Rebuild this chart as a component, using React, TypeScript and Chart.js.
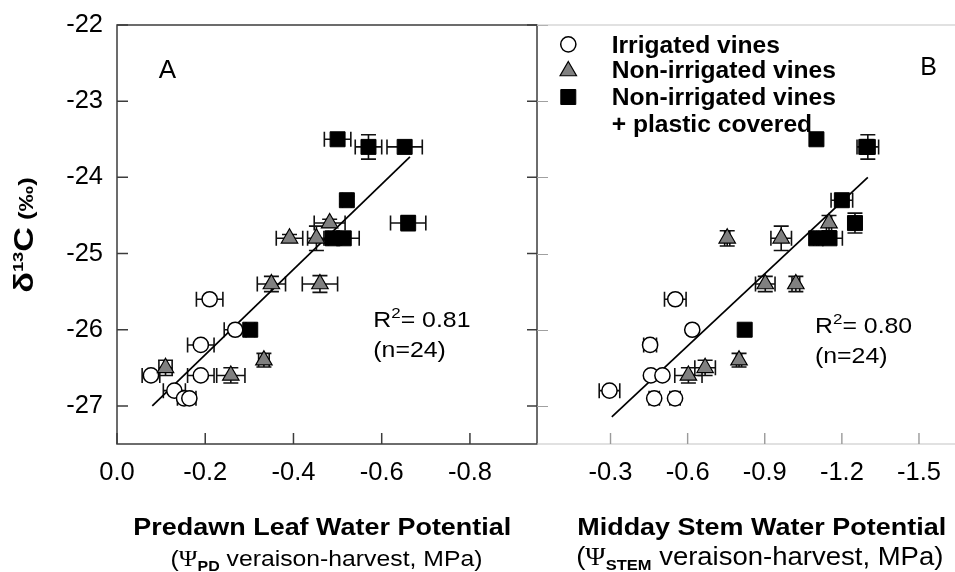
import { useEffect, useRef } from 'react';
import { Chart, registerables } from 'chart.js';
Chart.register(...registerables);

const FONT = '"Liberation Sans", Arial, Helvetica, sans-serif';
const SERIF = '"Liberation Serif", "DejaVu Serif", serif';
const GREY = '#808080';

// ---------- axes ----------
const yTicks = [-27, -26, -25, -24, -23, -22];
const xTicksA = [0, -0.2, -0.4, -0.6, -0.8];
const xTicksB = [-0.3, -0.6, -0.9, -1.2, -1.5];

// ---------- legend ----------
const legendLines = ['Irrigated vines', 'Non-irrigated vines', 'Non-irrigated vines', '+ plastic covered'];

// ---------- Panel A: predawn leaf water potential ----------
const irrA_x = [-0.21, -0.19, -0.268, -0.19, -0.077, -0.13, -0.152, -0.164];
const irrA_y = [-25.6, -26.2, -26.0, -26.6, -26.6, -26.8, -26.9, -26.9];
const irrA_xe = [0.03, 0.03, 0.025, 0.03, 0.02, 0.025, 0.015, 0.015];
const irrA_ye = [0, 0, 0, 0, 0, 0, 0, 0];

const nonA_x = [-0.482, -0.391, -0.452, -0.46, -0.35, -0.333, -0.258, -0.11];
const nonA_y = [-24.6, -24.8, -24.8, -25.4, -25.4, -26.4, -26.6, -26.5];
const nonA_xe = [0.035, 0.03, 0.02, 0.04, 0.032, 0.012, 0.032, 0.015];
const nonA_ye = [0.05, 0.05, 0.16, 0.11, 0.1, 0.09, 0.1, 0.1];

const plaA_x = [-0.5, -0.57, -0.652, -0.521, -0.66, -0.489, -0.514, -0.302];
const plaA_y = [-23.5, -23.6, -23.6, -24.3, -24.6, -24.8, -24.8, -26.0];
const plaA_xe = [0.03, 0.03, 0.04, 0.01, 0.04, 0.02, 0.035, 0.01];
const plaA_ye = [0, 0.16, 0, 0.05, 0.1, 0, 0, 0];

const fitA_x = [-0.08, -0.664];
const fitA_y = [-27.0, -23.73];

// ---------- Panel B: midday stem water potential ----------
const irrB_x = [-0.552, -0.618, -0.454, -0.457, -0.502, -0.296, -0.47, -0.551];
const irrB_y = [-25.6, -26.0, -26.2, -26.6, -26.6, -26.8, -26.9, -26.9];
const irrB_xe = [0.042, 0, 0.025, 0, 0, 0.04, 0.02, 0.02];
const irrB_ye = [0, 0, 0, 0, 0, 0, 0, 0];

const nonB_x = [-0.754, -0.964, -1.15, -0.902, -1.021, -0.8, -0.668, -0.603];
const nonB_y = [-24.8, -24.8, -24.6, -25.4, -25.4, -26.4, -26.5, -26.6];
const nonB_xe = [0.01, 0.04, 0.01, 0.038, 0.015, 0.01, 0.04, 0.053];
const nonB_ye = [0.1, 0.16, 0.1, 0.1, 0.1, 0.09, 0.1, 0.1];

const plaB_x = [-1.101, -1.301, -1.295, -1.2, -1.251, -1.1, -1.152, -0.822];
const plaB_y = [-23.5, -23.6, -23.6, -24.3, -24.6, -24.8, -24.8, -26.0];
const plaB_xe = [0, 0.042, 0, 0.042, 0.01, 0.01, 0.05, 0];
const plaB_ye = [0, 0.16, 0, 0.02, 0.13, 0, 0, 0];

const fitB_x = [-0.305, -1.301];
const fitB_y = [-27.145, -24.0];

// ---------- helpers ----------
const pts = (xs: number[], ys: number[]) => xs.map((x, i) => ({ x, y: ys[i] }));

const STYLES: Record<string, any> = {
  circle: { pointStyle: 'circle', r: 7.6, fill: '#ffffff', bw: 1.5 },
  triangle: { pointStyle: 'triangle', r: 9.5, fill: GREY, bw: 1.2 },
  rect: { pointStyle: 'rect', r: 10.6, fill: '#000000', bw: 1 },
};

function scatterDs(label: string, xs: number[], ys: number[], ex: number[], ey: number[], shape: string, order: number) {
  const s = STYLES[shape];
  return {
    type: 'scatter',
    label,
    data: pts(xs, ys),
    errX: ex,
    errY: ey,
    showLine: false,
    pointStyle: s.pointStyle,
    pointRadius: s.r,
    pointHoverRadius: s.r,
    pointBackgroundColor: s.fill,
    pointBorderColor: '#000',
    pointBorderWidth: s.bw,
    pointHoverBorderWidth: s.bw,
    backgroundColor: s.fill,
    borderColor: '#000',
    order,
  };
}

function fitDs(xs: number[], ys: number[]) {
  return {
    type: 'scatter',
    label: 'fit',
    data: pts(xs, ys),
    showLine: true,
    borderColor: '#000',
    borderWidth: 1.7,
    pointRadius: 0,
    pointHoverRadius: 0,
    fill: false,
    order: 4,
  };
}

type Run = { t: string; f: string; dy?: number };
function drawRuns(ctx: CanvasRenderingContext2D, runs: Run[], x: number, y: number, align: 'left' | 'center', sx: number) {
  ctx.save();
  let w = 0;
  const ws = runs.map((r) => {
    ctx.font = r.f;
    const m = ctx.measureText(r.t).width;
    w += m;
    return m;
  });
  const start = align === 'center' ? x - (w * sx) / 2 : x;
  ctx.translate(start, y);
  ctx.scale(sx, 1);
  ctx.fillStyle = '#000';
  ctx.textBaseline = 'alphabetic';
  ctx.textAlign = 'left';
  let cx = 0;
  runs.forEach((r, i) => {
    ctx.font = r.f;
    ctx.fillText(r.t, cx, r.dy || 0);
    cx += ws[i];
  });
  ctx.restore();
}

function drawMarker(ctx: CanvasRenderingContext2D, shape: string, x: number, y: number) {
  const s = STYLES[shape];
  ctx.save();
  ctx.strokeStyle = '#000';
  ctx.lineWidth = s.bw;
  ctx.fillStyle = s.fill;
  ctx.beginPath();
  if (shape === 'circle') {
    ctx.arc(x, y, s.r, 0, Math.PI * 2);
  } else if (shape === 'triangle') {
    const r = s.r;
    ctx.moveTo(x, y - r);
    ctx.lineTo(x + r * 0.866, y + r / 2);
    ctx.lineTo(x - r * 0.866, y + r / 2);
    ctx.closePath();
  } else {
    const h = s.r * Math.SQRT1_2;
    ctx.rect(x - h, y - h, 2 * h, 2 * h);
  }
  ctx.fill();
  ctx.stroke();
  ctx.restore();
}

const errorBars = {
  id: 'errorBars',
  beforeDatasetsDraw(chart: any) {
    const ctx: CanvasRenderingContext2D = chart.ctx;
    const xs = chart.scales.x;
    const ys = chart.scales.y;
    const CAP = 7.5;
    ctx.save();
    ctx.strokeStyle = '#111';
    ctx.lineWidth = 1.6;
    chart.data.datasets.forEach((ds: any) => {
      if (!ds.errX && !ds.errY) return;
      ds.data.forEach((p: any, j: number) => {
        const px = xs.getPixelForValue(p.x);
        const py = ys.getPixelForValue(p.y);
        const dx = ds.errX ? ds.errX[j] : 0;
        const dy = ds.errY ? ds.errY[j] : 0;
        ctx.beginPath();
        if (dx > 0) {
          const x1 = xs.getPixelForValue(p.x - dx);
          const x2 = xs.getPixelForValue(p.x + dx);
          ctx.moveTo(x1, py); ctx.lineTo(x2, py);
          ctx.moveTo(x1, py - CAP); ctx.lineTo(x1, py + CAP);
          ctx.moveTo(x2, py - CAP); ctx.lineTo(x2, py + CAP);
        }
        if (dy > 0) {
          const y1 = ys.getPixelForValue(p.y - dy);
          const y2 = ys.getPixelForValue(p.y + dy);
          ctx.moveTo(px, y1); ctx.lineTo(px, y2);
          ctx.moveTo(px - CAP, y1); ctx.lineTo(px + CAP, y1);
          ctx.moveTo(px - CAP, y2); ctx.lineTo(px + CAP, y2);
        }
        ctx.stroke();
      });
    });
    ctx.restore();
  },
};

const frameA = {
  id: 'frameA',
  afterDraw(chart: any) {
    const ctx: CanvasRenderingContext2D = chart.ctx;
    const { left, right, top, bottom } = chart.chartArea;
    const xs = chart.scales.x;
    const ys = chart.scales.y;
    ctx.save();
    ctx.strokeStyle = '#3c3c3c';
    ctx.lineWidth = 1.5;
    ctx.strokeRect(left, top, right - left, bottom - top);
    ctx.beginPath();
    yTicks.forEach((v) => {
      const py = ys.getPixelForValue(v);
      ctx.moveTo(left, py); ctx.lineTo(left + 11, py);
      ctx.moveTo(right - 10, py); ctx.lineTo(right, py);
    });
    xTicksA.forEach((v) => {
      const px = xs.getPixelForValue(v);
      ctx.moveTo(px, bottom); ctx.lineTo(px, bottom - 11);
    });
    ctx.stroke();
    ctx.strokeStyle = '#a0a0a0';
    ctx.lineWidth = 1;
    ctx.beginPath();
    yTicks.forEach((v) => {
      const py = Math.round(ys.getPixelForValue(v)) + 0.5;
      ctx.moveTo(right, py); ctx.lineTo(right + 11, py);
    });
    ctx.stroke();
    ctx.restore();

    // y-axis title
    ctx.save();
    ctx.translate(33, 235);
    ctx.rotate(-Math.PI / 2);
    drawRuns(ctx, [
      { t: 'δ', f: `bold 28px ${FONT}` },
      { t: '13', f: `bold 15px ${FONT}`, dy: -10 },
      { t: 'C', f: `bold 28px ${FONT}` },
      { t: ' (‰)', f: `bold 21px ${FONT}` },
    ], 0, 0, 'center', 1.22);
    ctx.restore();

    // panel letter
    drawRuns(ctx, [{ t: 'A', f: `26px ${FONT}` }], 167.5, 78.3, 'center', 1);
    // statistics
    drawRuns(ctx, [
      { t: 'R', f: `22px ${FONT}` },
      { t: '2', f: `15px ${FONT}`, dy: -9 },
      { t: '= 0.81', f: `22px ${FONT}` },
    ], 373.3, 327, 'left', 1.13);
    drawRuns(ctx, [{ t: '(n=24)', f: `22px ${FONT}` }], 373.3, 357, 'left', 1.13);
    // x-axis titles
    drawRuns(ctx, [{ t: 'Predawn Leaf Water Potential', f: `bold 24.5px ${FONT}` }], 322.3, 535, 'center', 1.1);
    drawRuns(ctx, [
      { t: '(', f: `22.5px ${FONT}` },
      { t: 'Ψ', f: `23px ${SERIF}` },
      { t: 'PD', f: `bold 14.5px ${FONT}`, dy: 5 },
      { t: ' veraison-harvest, MPa)', f: `22.5px ${FONT}` },
    ], 326.5, 566, 'center', 1.1);
  },
};

const frameB = {
  id: 'frameB',
  afterDraw(chart: any) {
    const ctx: CanvasRenderingContext2D = chart.ctx;
    const { left, top, bottom } = chart.chartArea;
    const right = chart.width;
    const xs = chart.scales.x;
    ctx.save();
    ctx.strokeStyle = '#c4c4c4';
    ctx.lineWidth = 1.2;
    ctx.beginPath();
    ctx.moveTo(left, top); ctx.lineTo(right, top);
    ctx.moveTo(left, bottom); ctx.lineTo(right, bottom);
    ctx.stroke();
    ctx.strokeStyle = '#9a9a9a';
    ctx.lineWidth = 1.4;
    ctx.beginPath();
    xTicksB.forEach((v) => {
      const px = xs.getPixelForValue(v);
      ctx.moveTo(px, bottom); ctx.lineTo(px, bottom - 11);
    });
    ctx.stroke();
    ctx.restore();

    // legend
    drawMarker(ctx, 'circle', 568.3, 44.3);
    drawMarker(ctx, 'triangle', 568.3, 71);
    drawMarker(ctx, 'rect', 568.3, 97);
    const lf = `bold 23px ${FONT}`;
    const baselines = [52.7, 77.8, 104.6, 132.3];
    legendLines.forEach((t, i) => drawRuns(ctx, [{ t, f: lf }], 611.7, baselines[i], 'left', 1.07));

    drawRuns(ctx, [{ t: 'B', f: `25px ${FONT}` }], 928.7, 75, 'center', 1);
    drawRuns(ctx, [
      { t: 'R', f: `22px ${FONT}` },
      { t: '2', f: `15px ${FONT}`, dy: -9 },
      { t: '= 0.80', f: `22px ${FONT}` },
    ], 815, 333, 'left', 1.13);
    drawRuns(ctx, [{ t: '(n=24)', f: `22px ${FONT}` }], 815, 363, 'left', 1.13);

    drawRuns(ctx, [{ t: 'Midday Stem Water Potential', f: `bold 24.5px ${FONT}` }], 761.7, 534.5, 'center', 1.1);
    drawRuns(ctx, [
      { t: '(', f: `25px ${FONT}` },
      { t: 'Ψ', f: `25px ${SERIF}` },
      { t: 'STEM', f: `bold 15px ${FONT}`, dy: 5 },
      { t: ' veraison-harvest, MPa)', f: `25px ${FONT}` },
    ], 759.8, 565, 'center', 1.1);
  },
};

const tickFont = { family: FONT, size: 25.5 };

function makeConfig(panel: 'A' | 'B'): any {
  const isA = panel === 'A';
  const datasets = isA
    ? [
        fitDs(fitA_x, fitA_y),
        scatterDs(legendLines[0], irrA_x, irrA_y, irrA_xe, irrA_ye, 'circle', 3),
        scatterDs(legendLines[1], nonA_x, nonA_y, nonA_xe, nonA_ye, 'triangle', 2),
        scatterDs(legendLines[2], plaA_x, plaA_y, plaA_xe, plaA_ye, 'rect', 1),
      ]
    : [
        fitDs(fitB_x, fitB_y),
        scatterDs(legendLines[0], irrB_x, irrB_y, irrB_xe, irrB_ye, 'circle', 3),
        scatterDs(legendLines[1], nonB_x, nonB_y, nonB_xe, nonB_ye, 'triangle', 2),
        scatterDs(legendLines[2], plaB_x, plaB_y, plaB_xe, plaB_ye, 'rect', 1),
      ];
  const xt = isA ? xTicksA : xTicksB;
  return {
    type: 'scatter',
    data: { datasets },
    plugins: [errorBars, isA ? frameA : frameB],
    options: {
      responsive: false,
      maintainAspectRatio: false,
      animation: false,
      devicePixelRatio: 1,
      events: [],
      layout: { padding: isA ? { left: 0, right: 418, top: 25, bottom: 0 } : { left: 537, right: 0, top: 25, bottom: 0 } },
      plugins: { legend: { display: false }, tooltip: { enabled: false }, title: { display: false } },
      scales: {
        x: {
          type: 'linear',
          min: isA ? -0.952 : -1.595,
          max: isA ? 0 : -0.014,
          reverse: true,
          afterBuildTicks: (s: any) => { s.ticks = xt.map((v) => ({ value: v })); },
          afterFit: (s: any) => { s.height = 128; s.paddingLeft = 0; s.paddingRight = 0; },
          grid: { display: false, drawTicks: false },
          border: { display: false },
          ticks: {
            padding: 14,
            color: '#000',
            font: tickFont,
            autoSkip: false,
            maxRotation: 0,
            callback: (v: any) => Number(v).toFixed(1).replace('-0.0', '0.0'),
          },
        },
        y: {
          type: 'linear',
          display: isA,
          min: -27.5,
          max: -22,
          afterBuildTicks: (s: any) => { s.ticks = yTicks.map((v) => ({ value: v })); },
          afterFit: (s: any) => { s.width = isA ? 117 : 0; s.paddingTop = 0; s.paddingBottom = 0; },
          grid: { display: false, drawTicks: false },
          border: { display: false },
          ticks: {
            padding: 14,
            color: '#000',
            font: tickFont,
            callback: (v: any) => Number(v).toFixed(0),
          },
        },
      },
    },
  };
}

export default function App() {
  const refA = useRef<HTMLCanvasElement>(null);
  const refB = useRef<HTMLCanvasElement>(null);
  useEffect(() => {
    const a = new Chart(refA.current as HTMLCanvasElement, makeConfig('A'));
    const b = new Chart(refB.current as HTMLCanvasElement, makeConfig('B'));
    return () => {
      a.destroy();
      b.destroy();
    };
  }, []);
  return (
    <div style={{ position: 'absolute', left: 0, top: 0, width: 955, height: 572, background: '#fff' }}>
      <canvas ref={refA} width={955} height={572} style={{ position: 'absolute', left: 0, top: 0 }} />
      <canvas ref={refB} width={955} height={572} style={{ position: 'absolute', left: 0, top: 0 }} />
    </div>
  );
}
